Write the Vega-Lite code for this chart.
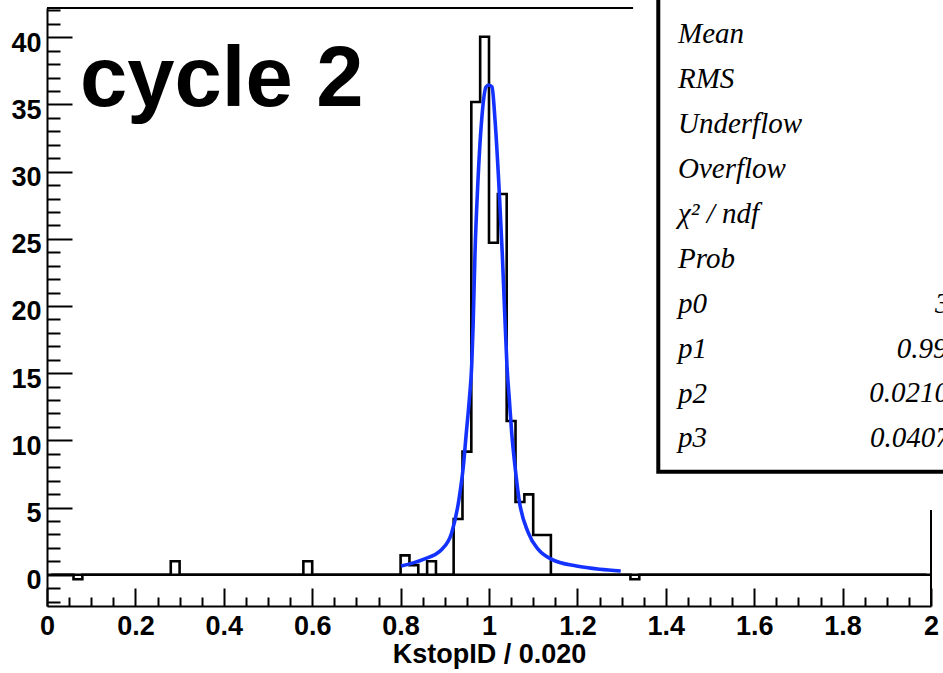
{
  "$schema": "https://vega.github.io/schema/vega-lite/v6.json",
  "width": 884,
  "height": 598,
  "autosize": "none",
  "padding": {"left": 47, "top": 8, "right": 12, "bottom": 67},
  "background": "white",
  "config": {"view": {"stroke": null}},
  "data": {"values": [{}]},
  "datasets": {
    "hist": [
      {"x":0.01,"n":0},{"x":0.03,"n":0},{"x":0.05,"n":0},{"x":0.07,"n":-0.34},{"x":0.09,"n":0},
      {"x":0.11,"n":0},{"x":0.13,"n":0},{"x":0.15,"n":0},{"x":0.17,"n":0},{"x":0.19,"n":0},
      {"x":0.21,"n":0},{"x":0.23,"n":0},{"x":0.25,"n":0},{"x":0.27,"n":0},{"x":0.29,"n":1},
      {"x":0.31,"n":0},{"x":0.33,"n":0},{"x":0.35,"n":0},{"x":0.37,"n":0},{"x":0.39,"n":0},
      {"x":0.41,"n":0},{"x":0.43,"n":0},{"x":0.45,"n":0},{"x":0.47,"n":0},{"x":0.49,"n":0},
      {"x":0.51,"n":0},{"x":0.53,"n":0},{"x":0.55,"n":0},{"x":0.57,"n":0},{"x":0.59,"n":1},
      {"x":0.61,"n":0},{"x":0.63,"n":0},{"x":0.65,"n":0},{"x":0.67,"n":0},{"x":0.69,"n":0},
      {"x":0.71,"n":0},{"x":0.73,"n":0},{"x":0.75,"n":0},{"x":0.77,"n":0},{"x":0.79,"n":0},
      {"x":0.81,"n":1.44},{"x":0.83,"n":0.71},{"x":0.85,"n":0},{"x":0.87,"n":1.0},{"x":0.89,"n":0},
      {"x":0.91,"n":0},{"x":0.93,"n":4.15},{"x":0.95,"n":9.16},{"x":0.97,"n":35.18},{"x":0.99,"n":40.04},
      {"x":1.01,"n":24.71},{"x":1.03,"n":28.34},{"x":1.05,"n":11.44},{"x":1.07,"n":5.41},{"x":1.09,"n":5.98},
      {"x":1.11,"n":2.95},{"x":1.13,"n":2.95},{"x":1.15,"n":0},{"x":1.17,"n":0},{"x":1.19,"n":0},
      {"x":1.21,"n":0},{"x":1.23,"n":0},{"x":1.25,"n":0},{"x":1.27,"n":0},{"x":1.29,"n":0},
      {"x":1.31,"n":0},{"x":1.33,"n":-0.34},{"x":1.35,"n":0},{"x":1.37,"n":0},{"x":1.39,"n":0},
      {"x":1.41,"n":0},{"x":1.43,"n":0},{"x":1.45,"n":0},{"x":1.47,"n":0},{"x":1.49,"n":0},
      {"x":1.51,"n":0},{"x":1.53,"n":0},{"x":1.55,"n":0},{"x":1.57,"n":0},{"x":1.59,"n":0},
      {"x":1.61,"n":0},{"x":1.63,"n":0},{"x":1.65,"n":0},{"x":1.67,"n":0},{"x":1.69,"n":0},
      {"x":1.71,"n":0},{"x":1.73,"n":0},{"x":1.75,"n":0},{"x":1.77,"n":0},{"x":1.79,"n":0},
      {"x":1.81,"n":0},{"x":1.83,"n":0},{"x":1.85,"n":0},{"x":1.87,"n":0},{"x":1.89,"n":0},
      {"x":1.91,"n":0},{"x":1.93,"n":0},{"x":1.95,"n":0},{"x":1.97,"n":0},{"x":1.99,"n":0}
    ],
    "fit": [
      {"x":0.801,"f":0.64},{"x":0.8515,"f":1.14},{"x":0.893,"f":1.88},{"x":0.9156,"f":3.12},
      {"x":0.932,"f":5.6},{"x":0.942,"f":8.08},{"x":0.9487,"f":10.57},{"x":0.9555,"f":13.05},
      {"x":0.9608,"f":15.53},{"x":0.964,"f":18.5},{"x":0.9683,"f":23.92},{"x":0.9744,"f":28.88},
      {"x":0.9834,"f":33.85},{"x":0.9932,"f":36.3},{"x":0.9993,"f":36.45},{"x":1.0068,"f":36.3},
      {"x":1.0136,"f":33.85},{"x":1.0226,"f":28.88},{"x":1.03,"f":23.92},{"x":1.0355,"f":19.5},
      {"x":1.0407,"f":15.53},{"x":1.046,"f":13.05},{"x":1.0513,"f":10.57},{"x":1.0588,"f":8.08},
      {"x":1.068,"f":5.6},{"x":1.089,"f":3.12},{"x":1.1115,"f":1.88},{"x":1.142,"f":1.14},
      {"x":1.198,"f":0.64},{"x":1.251,"f":0.4},{"x":1.298,"f":0.28}
    ]
  },
  "resolve": {"axis": {"x": "independent", "y": "independent"}},
  "layer": [
    {
      "data": {"name": "hist"},
      "mark": {"type": "line", "interpolate": "step", "color": "black", "strokeWidth": 2.6},
      "encoding": {
        "x": {"field": "x", "type": "quantitative",
          "scale": {"domain": [0, 2], "nice": false, "zero": false},
          "axis": {"orient": "bottom", "values": [0,0.2,0.4,0.6,0.8,1,1.2,1.4,1.6,1.8,2], "format": "~g",
            "grid": false, "tickSize": -18, "tickWidth": 2, "tickColor": "black",
            "domainColor": "black", "domainWidth": 2,
            "labelFont": "Liberation Sans", "labelFontWeight": "bold", "labelFontSize": 27, "labelColor": "black",
            "labelPadding": 25, "labelFlush": false, "labelOverlap": false,
            "title": "KstopID / 0.020", "titleFont": "Liberation Sans", "titleFontWeight": "bold",
            "titleFontSize": 27, "titleColor": "black", "titlePadding": 2}},
        "y": {"field": "n", "type": "quantitative",
          "scale": {"domain": [-2.33, 42.18], "nice": false, "zero": false},
          "axis": {"orient": "left", "values": [0,5,10,15,20,25,30,35,40], "format": "d",
            "grid": false, "tickSize": -25, "tickWidth": 2, "tickColor": "black",
            "domainColor": "black", "domainWidth": 2,
            "labelFont": "Liberation Sans", "labelFontWeight": "bold", "labelFontSize": 27, "labelColor": "black",
            "labelPadding": 31, "labelOffset": 6, "labelFlush": false, "labelOverlap": false,
            "title": null}}
      }
    },
    {
      "mark": {"type": "rule", "color": "black", "strokeWidth": 2.6},
      "encoding": {"y": {"datum": 0, "type": "quantitative", "scale": {"domain": [-2.33, 42.18], "nice": false, "zero": false}, "axis": null}}
    },
    {
      "data": {"name": "fit"},
      "mark": {"type": "line", "interpolate": "monotone", "color": "#1432ff", "strokeWidth": 3.6},
      "encoding": {
        "x": {"field": "x", "type": "quantitative",
          "scale": {"domain": [0, 2], "nice": false, "zero": false},
          "axis": {"orient": "bottom", "values": [0.05,0.1,0.15,0.25,0.3,0.35,0.45,0.5,0.55,0.65,0.7,0.75,0.85,0.9,0.95,1.05,1.1,1.15,1.25,1.3,1.35,1.45,1.5,1.55,1.65,1.7,1.75,1.85,1.9,1.95],
            "grid": false, "tickSize": -9, "tickWidth": 2, "tickColor": "black", "domain": false, "labels": false, "title": null}},
        "y": {"field": "f", "type": "quantitative",
          "scale": {"domain": [-2.33, 42.18], "nice": false, "zero": false},
          "axis": {"orient": "left", "values": [-2,-1,1,2,3,4,6,7,8,9,11,12,13,14,16,17,18,19,21,22,23,24,26,27,28,29,31,32,33,34,36,37,38,39,41,42],
            "grid": false, "tickSize": -13, "tickWidth": 2, "tickColor": "black", "domain": false, "labels": false, "title": null}}
      }
    },
    {
      "mark": {"type": "rule", "color": "black", "strokeWidth": 2},
      "encoding": {"y": {"datum": 42.18, "type": "quantitative", "scale": {"domain": [-2.33, 42.18], "nice": false, "zero": false}, "axis": null}}
    },
    {
      "mark": {"type": "rule", "color": "black", "strokeWidth": 2},
      "encoding": {"x": {"datum": 2, "type": "quantitative", "scale": {"domain": [0, 2], "nice": false, "zero": false}, "axis": null}}
    },
    {
      "mark": {"type": "text", "text": "cycle 2", "font": "Liberation Sans", "fontWeight": "bold", "fontSize": 85, "align": "left", "baseline": "alphabetic", "color": "black"},
      "encoding": {
        "x": {"datum": 0.0747, "type": "quantitative", "scale": {"domain": [0, 2], "nice": false, "zero": false}, "axis": null},
        "y": {"datum": 34.89, "type": "quantitative", "scale": {"domain": [-2.33, 42.18], "nice": false, "zero": false}, "axis": null}
      }
    },
    {
      "mark": {"type": "rect", "fill": "white", "strokeWidth": 0},
      "encoding": {
        "x": {"datum": 1.326, "type": "quantitative", "scale": {"domain": [0, 2], "nice": false, "zero": false}, "axis": null},
        "x2": {"datum": 2.08},
        "y": {"datum": 4.81, "type": "quantitative", "scale": {"domain": [-2.33, 42.18], "nice": false, "zero": false}, "axis": null},
        "y2": {"datum": 44.5}
      }
    },
    {
      "mark": {"type": "rect", "fill": "white", "stroke": "black", "strokeWidth": 4},
      "encoding": {
        "x": {"datum": 1.383, "type": "quantitative", "scale": {"domain": [0, 2], "nice": false, "zero": false}, "axis": null},
        "x2": {"datum": 2.08},
        "y": {"datum": 7.667, "type": "quantitative", "scale": {"domain": [-2.33, 42.18], "nice": false, "zero": false}, "axis": null},
        "y2": {"datum": 44.5}
      }
    },
    {
      "mark": {"type": "text", "text": ["Mean", "RMS", "Underflow", "Overflow", "χ² / ndf", "Prob", "p0", "p1", "p2", "p3"],
        "font": "Liberation Serif", "fontStyle": "italic", "fontSize": 29, "lineHeight": 44.9, "align": "left", "baseline": "alphabetic", "color": "black"},
      "encoding": {
        "x": {"datum": 1.4276, "type": "quantitative", "scale": {"domain": [0, 2], "nice": false, "zero": false}, "axis": null},
        "y": {"datum": 39.55, "type": "quantitative", "scale": {"domain": [-2.33, 42.18], "nice": false, "zero": false}, "axis": null}
      }
    },
    {
      "mark": {"type": "text", "text": "3", "font": "Liberation Serif", "fontStyle": "italic", "fontSize": 29, "align": "left", "baseline": "alphabetic", "color": "black"},
      "encoding": {
        "x": {"datum": 2.009, "type": "quantitative", "scale": {"domain": [0, 2], "nice": false, "zero": false}, "axis": null},
        "y": {"datum": 19.5, "type": "quantitative", "scale": {"domain": [-2.33, 42.18], "nice": false, "zero": false}, "axis": null}
      }
    },
    {
      "mark": {"type": "text", "text": "0.99", "font": "Liberation Serif", "fontStyle": "italic", "fontSize": 29, "align": "left", "baseline": "alphabetic", "color": "black"},
      "encoding": {
        "x": {"datum": 1.9224, "type": "quantitative", "scale": {"domain": [0, 2], "nice": false, "zero": false}, "axis": null},
        "y": {"datum": 16.16, "type": "quantitative", "scale": {"domain": [-2.33, 42.18], "nice": false, "zero": false}, "axis": null}
      }
    },
    {
      "mark": {"type": "text", "text": "0.0210", "font": "Liberation Serif", "fontStyle": "italic", "fontSize": 29, "align": "left", "baseline": "alphabetic", "color": "black"},
      "encoding": {
        "x": {"datum": 1.8604, "type": "quantitative", "scale": {"domain": [0, 2], "nice": false, "zero": false}, "axis": null},
        "y": {"datum": 12.82, "type": "quantitative", "scale": {"domain": [-2.33, 42.18], "nice": false, "zero": false}, "axis": null}
      }
    },
    {
      "mark": {"type": "text", "text": "0.0407", "font": "Liberation Serif", "fontStyle": "italic", "fontSize": 29, "align": "left", "baseline": "alphabetic", "color": "black"},
      "encoding": {
        "x": {"datum": 1.862, "type": "quantitative", "scale": {"domain": [0, 2], "nice": false, "zero": false}, "axis": null},
        "y": {"datum": 9.48, "type": "quantitative", "scale": {"domain": [-2.33, 42.18], "nice": false, "zero": false}, "axis": null}
      }
    }
  ]
}
